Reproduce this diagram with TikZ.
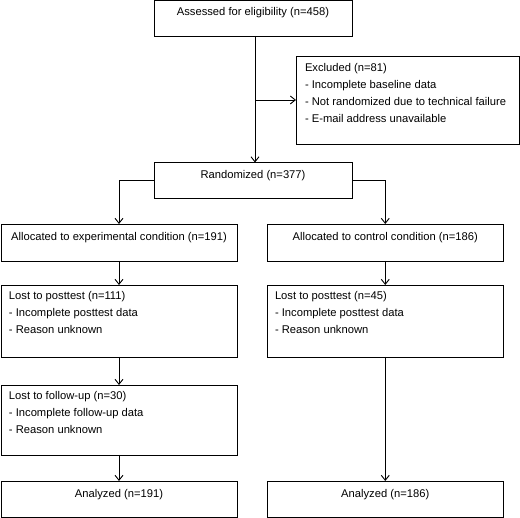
\documentclass[tikz,border=0pt]{standalone}
\usepackage{fontspec}
\setmainfont{Liberation Sans}
\usetikzlibrary{arrows.meta}
\begin{document}
\begin{tikzpicture}[x=1pt,y=-1pt,
  box/.style={draw, line width=0.9pt, inner sep=0pt, outer sep=0pt, anchor=north west},
  txt/.style={font=\fontsize{11.2}{17}\selectfont, inner sep=0pt, outer sep=0pt},
  multi/.style={txt, align=left, anchor=base west},
  arr/.style={line width=0.9pt, -{Straight Barb[length=5pt,width=8pt,line width=0.9pt]}}]
\useasboundingbox (0,0) rectangle (520,518);
% boxes
\node[box, minimum width=198pt, minimum height=35.4pt] (assess) at (154,0.6) {};
\node[box, minimum width=223pt, minimum height=88pt] (excl) at (296,56) {};
\node[box, minimum width=198pt, minimum height=35.5pt] (rand) at (154,162.5) {};
\node[box, minimum width=236pt, minimum height=37pt] (allocE) at (1,224) {};
\node[box, minimum width=236.5pt, minimum height=37pt] (allocC) at (267,224) {};
\node[box, minimum width=236pt, minimum height=72pt] (lostE) at (1,285) {};
\node[box, minimum width=236.5pt, minimum height=72pt] (lostC) at (267,285) {};
\node[box, minimum width=236pt, minimum height=70pt] (fuE) at (1,385) {};
\node[box, minimum width=236pt, minimum height=36pt] (anE) at (1,481) {};
\node[box, minimum width=236.5pt, minimum height=36pt] (anC) at (267,481) {};
% texts
\node[txt, anchor=base] (tassess) at ([yshift=-14.5pt]assess.north) {Assessed for eligibility (n=458)};
\node[txt, anchor=base] (trand) at ([yshift=-16pt]rand.north) {Randomized (n=377)};
\node[txt, anchor=base] (tallocE) at ([yshift=-16.5pt]allocE.north) {Allocated to experimental condition (n=191)};
\node[txt, anchor=base] (tallocC) at ([yshift=-16.5pt]allocC.north) {Allocated to control condition (n=186)};
\node[txt, anchor=base] (tanE) at ([yshift=-16.5pt]anE.north) {Analyzed (n=191)};
\node[txt, anchor=base] (tanC) at ([yshift=-16.5pt]anC.north) {Analyzed (n=186)};
\node[multi] (texcl) at ([xshift=9pt,yshift=-66.5pt]excl.north west)
  {Excluded (n=81)\\- Incomplete baseline data\\- Not randomized due to technical failure\\- E-mail address unavailable};
\node[multi] (tlostE) at ([xshift=8pt,yshift=-49pt]lostE.north west)
  {Lost to posttest (n=111)\\- Incomplete posttest data\\- Reason unknown};
\node[multi] (tlostC) at ([xshift=8pt,yshift=-49pt]lostC.north west)
  {Lost to posttest (n=45)\\- Incomplete posttest data\\- Reason unknown};
\node[multi] (tfuE) at ([xshift=8pt,yshift=-49pt]fuE.north west)
  {Lost to follow-up (n=30)\\- Incomplete follow-up data\\- Reason unknown};
% connectors
\coordinate (xa) at (255,0);
\draw[arr] (assess.south -| xa) -- (rand.north -| xa);
\draw[arr] (excl.west -| xa) -- (excl.west);
\draw[arr] (rand.west) -| (allocE.north);
\draw[arr] (rand.east) -| (allocC.north);
\draw[arr] (allocE.south) -- (lostE.north);
\draw[arr] (allocC.south) -- (lostC.north);
\draw[arr] (lostE.south) -- (fuE.north);
\draw[arr] (fuE.south) -- (anE.north);
\draw[arr] (lostC.south) -- (anC.north);
\end{tikzpicture}
\end{document}
